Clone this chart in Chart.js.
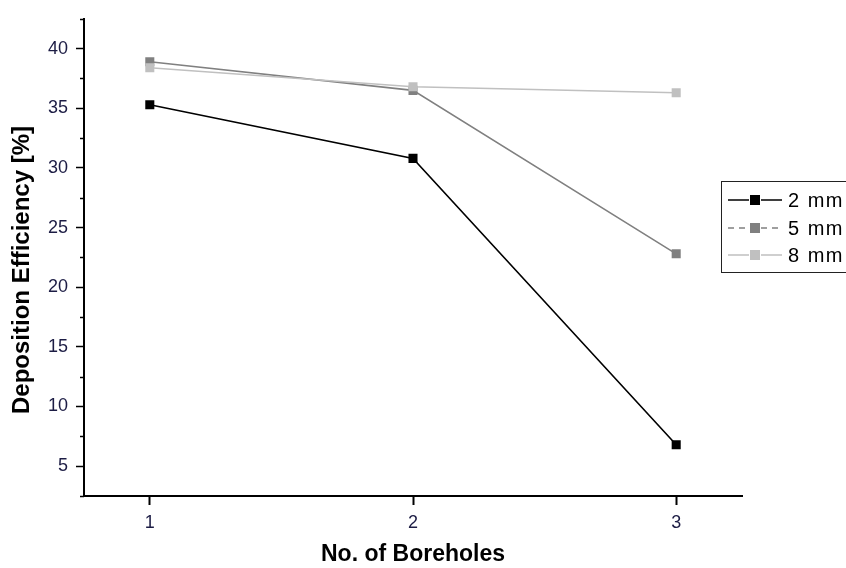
<!DOCTYPE html>
<html>
<head>
<meta charset="utf-8">
<script src="https://cdn.jsdelivr.net/npm/chart.js@4"></script>
<style>
  html, body { margin: 0; padding: 0; background: #fff; }
  #wrap { width: 846px; height: 568px; }
</style>
</head>
<body>
<div id="wrap"><canvas id="chartCanvas" width="846" height="568"></canvas></div>
<script>
// valores
const perforaciones = [1, 2, 3];
const serie2mm = [35.3, 30.8, 6.8];
const serie5mm = [38.9, 36.5, 22.8];
const serie8mm = [38.4, 36.8, 36.3];
const leyendas = ["2 mm", "5 mm", "8 mm"];
const ticksY = [5, 10, 15, 20, 25, 30, 35, 40];
const ticksX = [1, 2, 3];

const fuente = "'Liberation Sans', Arial, sans-serif";
const colores = ["#000000", "#808080", "#c0c0c0"];

function puntos(valores) {
  return perforaciones.map((x, i) => ({ x: x, y: valores[i] }));
}

// ticks menores del eje y + titulo vertical
const ejeY = {
  id: "ejeY",
  afterDraw(chart) {
    const ctx = chart.ctx;
    const y = chart.scales.y;
    const left = chart.chartArea.left;
    ctx.save();
    ctx.strokeStyle = "#000";
    ctx.lineWidth = 1.5;
    for (let v = 2.5; v <= 42.5; v += 5) {
      const py = Math.round(y.getPixelForValue(v)) + 0.5;
      ctx.beginPath();
      ctx.moveTo(left - 4, py);
      ctx.lineTo(left, py);
      ctx.stroke();
    }
    ctx.translate(22, 270);
    ctx.rotate(-Math.PI / 2);
    ctx.fillStyle = "#000";
    ctx.font = "bold 24px " + fuente;
    ctx.textAlign = "center";
    ctx.textBaseline = "middle";
    ctx.fillText("Deposition Efficiency [%]", 0, 0);
    ctx.restore();
  }
};

// leyenda como en el original: linea - cuadro - linea
const leyendaPropia = {
  id: "leyendaPropia",
  afterDraw(chart) {
    const ctx = chart.ctx;
    ctx.save();
    ctx.fillStyle = "#fff";
    ctx.fillRect(721, 181, 130, 92);
    ctx.strokeStyle = "#222";
    ctx.lineWidth = 1;
    ctx.strokeRect(721.5, 181.5, 140, 91);
    const filas = [200, 228, 255];
    leyendas.forEach((texto, i) => {
      const yy = filas[i];
      ctx.strokeStyle = colores[i];
      ctx.lineWidth = 1.5;
      if (i === 1) ctx.setLineDash([6, 5]); else ctx.setLineDash([]);
      ctx.beginPath();
      ctx.moveTo(728, yy);
      ctx.lineTo(749, yy);
      ctx.moveTo(761, yy);
      ctx.lineTo(782, yy);
      ctx.stroke();
      ctx.setLineDash([]);
      ctx.fillStyle = colores[i];
      ctx.fillRect(750, yy - 5, 10, 10);
      ctx.fillStyle = "#000";
      ctx.font = "20px " + fuente;
      ctx.letterSpacing = "1.5px";
      ctx.textBaseline = "middle";
      ctx.fillText(texto, 788, yy + 1);
    });
    ctx.restore();
  }
};

const ctx = document.getElementById("chartCanvas").getContext("2d");

window.myChart = new Chart(ctx, {
  type: "line",
  data: {
    datasets: [
      { label: leyendas[0], data: puntos(serie2mm), borderColor: colores[0], backgroundColor: colores[0], order: 3 },
      { label: leyendas[1], data: puntos(serie5mm), borderColor: colores[1], backgroundColor: colores[1], order: 2 },
      { label: leyendas[2], data: puntos(serie8mm), borderColor: colores[2], backgroundColor: colores[2], order: 1 },
    ].map((d) => Object.assign(d, {
      borderWidth: 1.6,
      pointStyle: "rect",
      pointRadius: 6.4,
      pointBorderWidth: 0,
      tension: 0,
      fill: false,
    })),
  },
  options: {
    responsive: false,
    animation: false,
    devicePixelRatio: 1,
    layout: { padding: { left: 0, right: 104, top: 14, bottom: 0 } },
    plugins: {
      legend: { display: false },
      tooltip: { enabled: false },
    },
    scales: {
      x: {
        type: "linear",
        min: 0.75,
        max: 3.25,
        afterBuildTicks: (scale) => { scale.ticks = ticksX.map((v) => ({ value: v })); },
        afterFit: (scale) => { scale.height = 72; },
        grid: { drawOnChartArea: false, tickLength: 9, tickColor: "#000", tickWidth: 2 },
        border: { color: "#000", width: 2 },
        ticks: { color: "#1c1c44", font: { family: fuente, size: 18 }, padding: 7 },
        title: {
          display: true,
          text: "No. of Boreholes",
          color: "#000",
          font: { family: fuente, size: 23, weight: "bold" },
          padding: { top: 0, bottom: 0 },
        },
      },
      y: {
        min: 2.5,
        max: 42.5,
        afterBuildTicks: (scale) => { scale.ticks = ticksY.map((v) => ({ value: v })); },
        afterFit: (scale) => { scale.width = 84; },
        grid: { drawOnChartArea: false, tickLength: 8, tickColor: "#000", tickWidth: 1.5 },
        border: { color: "#000", width: 2 },
        ticks: { color: "#1c1c44", font: { family: fuente, size: 18 }, padding: 8 },
      },
    },
  },
  plugins: [ejeY, leyendaPropia],
});
</script>
</body>
</html>
